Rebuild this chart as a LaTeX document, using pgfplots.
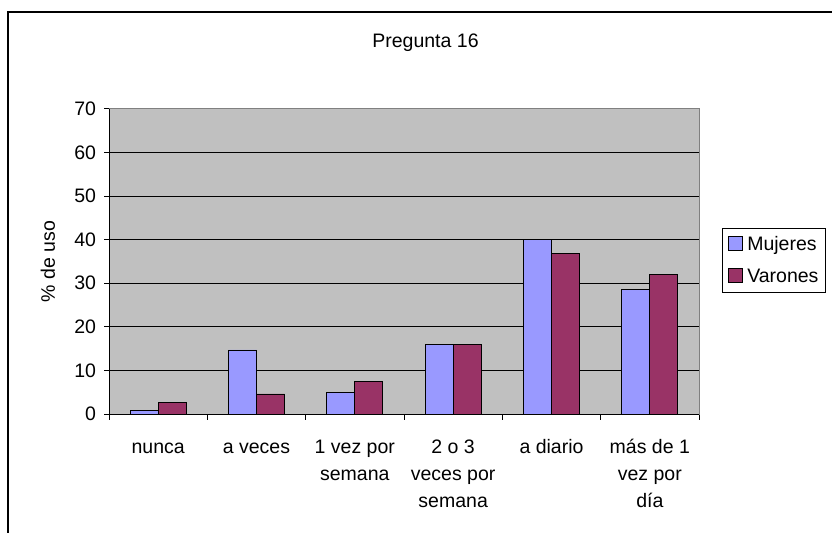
\documentclass[border=0pt]{standalone}
\usepackage{pgfplots}
\pgfplotsset{compat=1.18}
\usepackage{fontspec}
\setmainfont{Liberation Sans}
\definecolor{muj}{HTML}{9999FF}
\definecolor{var}{HTML}{993366}
\definecolor{plotbg}{HTML}{C0C0C0}
\newcommand{\cf}{\fontsize{19.5bp}{27bp}\selectfont}

\begin{document}
\begin{tikzpicture}
\useasboundingbox (0,0) rectangle (832bp,533bp);
\fill[white] (0,0) rectangle (832bp,533bp);
\draw[black, line width=1.5bp] (8bp,0) -- (8bp,521bp) -- (832bp,521bp);
\node[font=\cf, anchor=base] at (425.5bp,485bp) {Pregunta 16};
\begin{axis}[
  at={(109bp,119bp)}, anchor=south west,
  scale only axis, width=590bp, height=305bp,
  ymin=0, ymax=70, ytick={0,10,...,70},
  xmin=-0.5, xmax=5.5,
  xtick={0,...,5},
  xticklabels={{\strut nunca}, {\strut a veces}, {\strut 1 vez por\\semana}, {\strut 2 o 3\\veces por\\semana}, {\strut a diario}, {\strut más de 1\\vez por\\día}},
  minor xtick={-0.5,0.5,...,5.5},
  major x tick style={draw=none},
  tick align=outside, tick pos=left,
  major tick length=5bp, minor tick length=6bp,
  tick style={black, line width=1bp},
  /pgf/number format/assume math mode=true,
  tick label style={font=\cf},
  x tick label style={align=center, anchor=north, yshift=-12bp},
  y tick label style={xshift=-4.5bp},
  ymajorgrids, grid style={black, line width=1bp},
  axis line style={draw=gray, line width=1bp},
  axis background/.style={fill=plotbg},
  ylabel={\% de uso},
  every axis y label/.style={at={(axis description cs:-0.1034,0.5)}, rotate=90, anchor=center, font=\cf},
  ybar=0pt, bar width=28bp,
  legend style={at={(1.039,0.6098)}, anchor=north west, draw=black, line width=1bp, fill=white,
    font=\cf, row sep=13bp, inner xsep=5bp, inner ysep=6bp},
  legend cell align=left,
  legend image code/.code={\draw[#1, line width=0.8bp] (0bp,-6bp) rectangle (14bp,8bp); \path (17bp,0bp);},
  clip=false,
]
\addplot[fill=muj, draw=black, line width=0.8bp] coordinates {(0,0.8) (1,14.7) (2,5.0) (3,16.0) (4,40.1) (5,28.5)};
\addplot[fill=var, draw=black, line width=0.8bp] coordinates {(0,2.7) (1,4.6) (2,7.5) (3,16.0) (4,36.8) (5,32.0)};
\legend{Mujeres, Varones}
\draw[black, line width=1bp] (axis cs:-0.5,70) -- (axis cs:-0.5,0) -- (axis cs:5.5,0);
\end{axis}
\end{tikzpicture}
\end{document}
